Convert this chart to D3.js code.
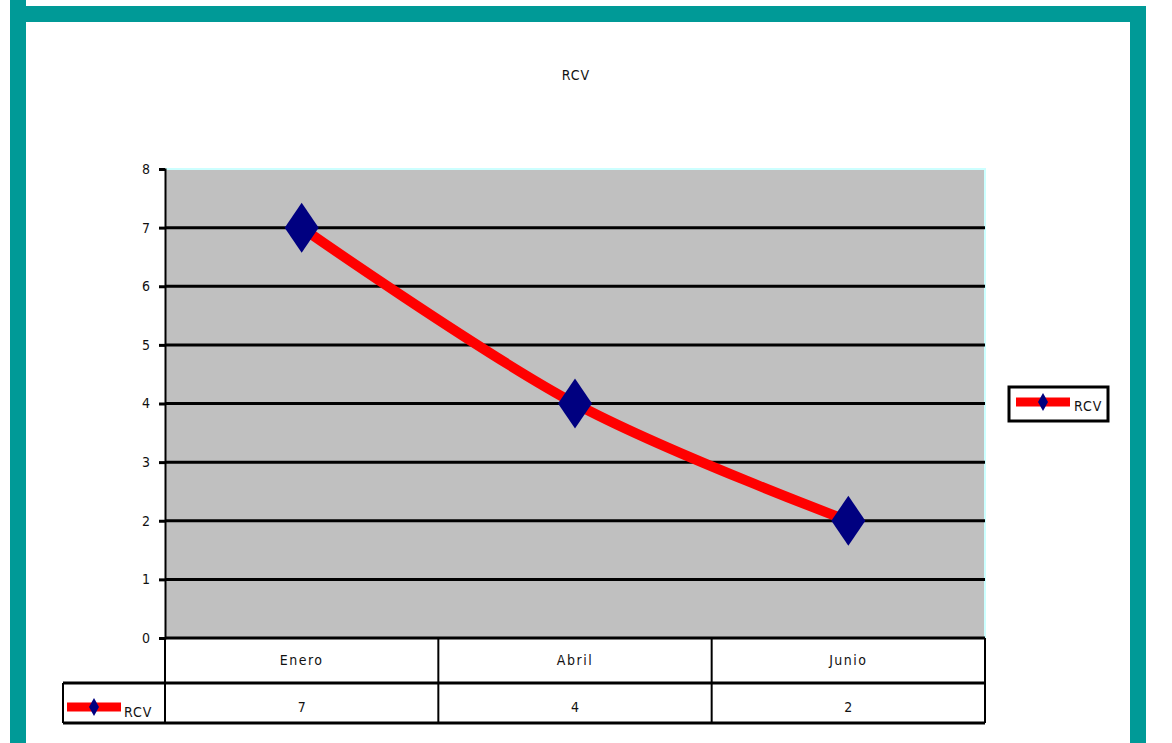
<!DOCTYPE html>
<html>
<head>
<meta charset="utf-8">
<script src="https://cdn.jsdelivr.net/npm/d3@7"></script>
<style>
  body { margin: 0; background: #fff; }
  svg text { font-family: "Liberation Sans Narrow", "DejaVu Sans Condensed", "Liberation Sans", Arial, sans-serif; font-stretch: condensed; font-size: 14px; fill: #111; }
</style>
</head>
<body>
<div id="chart"></div>
<script>
// data
const categories = ["Enero", "Abril", "Junio"];
const rcvValues = [7, 4, 2];
const seriesName = "RCV";
const yTicks = [0, 1, 2, 3, 4, 5, 6, 7, 8];

const width = 1172;
const height = 743;

// plot area
const plotLeft = 165, plotRight = 985, plotTop = 169, plotBottom = 638;
const rowH1 = 45, rowH2 = 40;

const svg = d3.select("#chart")
  .append("svg")
  .attr("width", width)
  .attr("height", height);

// teal frame
const teal = "#009a97";
svg.append("rect").attr("x", 10).attr("y", 0).attr("width", 16).attr("height", height).attr("fill", teal);
svg.append("rect").attr("x", 10).attr("y", 6).attr("width", 1136).attr("height", 16).attr("fill", teal);
svg.append("rect").attr("x", 1130).attr("y", 6).attr("width", 16).attr("height", height).attr("fill", teal);

// title
svg.append("text")
  .attr("x", 576).attr("y", 80)
  .attr("text-anchor", "middle")
  .style("letter-spacing", "1px")
  .text(seriesName);

const x = d3.scaleBand()
  .domain(categories)
  .range([plotLeft, plotRight]);

const y = d3.scaleLinear()
  .domain([0, 8])
  .range([plotBottom, plotTop]);

// plot background
svg.append("rect")
  .attr("x", plotLeft).attr("y", plotTop)
  .attr("width", plotRight - plotLeft).attr("height", plotBottom - plotTop)
  .attr("fill", "#c0c0c0");

// light cyan top/right edges
svg.append("path")
  .attr("d", `M${plotLeft},${plotTop} H${plotRight} V${plotBottom}`)
  .attr("fill", "none")
  .attr("stroke", "#ccffff")
  .attr("stroke-width", 2);

// gridlines
svg.append("g")
  .selectAll("line")
  .data(yTicks.filter(d => d > 0 && d < 8))
  .join("line")
  .attr("x1", plotLeft).attr("x2", plotRight)
  .attr("y1", d => y(d)).attr("y2", d => y(d))
  .attr("stroke", "#000")
  .attr("stroke-width", 3);

// y axis
const yAxis = svg.append("g")
  .attr("transform", `translate(${plotLeft},0)`)
  .call(d3.axisLeft(y).tickValues(yTicks).tickSize(6).tickPadding(9).tickFormat(d3.format("d")));
yAxis.select(".domain").attr("stroke", "#000").attr("stroke-width", 2);
yAxis.selectAll(".tick line").attr("stroke", "#000").attr("stroke-width", 3);
yAxis.selectAll("text").style("font-size", "14px").attr("fill", "#111");

// data table
const tbl = svg.append("g").attr("fill", "none").attr("stroke", "#000");
tbl.append("line").attr("x1", plotLeft).attr("x2", plotRight).attr("y1", plotBottom).attr("y2", plotBottom).attr("stroke-width", 3);
tbl.append("line").attr("x1", 63).attr("x2", plotRight).attr("y1", plotBottom + rowH1).attr("y2", plotBottom + rowH1).attr("stroke-width", 3);
tbl.append("line").attr("x1", 63).attr("x2", plotRight).attr("y1", plotBottom + rowH1 + rowH2).attr("y2", plotBottom + rowH1 + rowH2).attr("stroke-width", 3);
tbl.append("line").attr("x1", 63).attr("x2", 63).attr("y1", plotBottom + rowH1).attr("y2", plotBottom + rowH1 + rowH2).attr("stroke-width", 2);
tbl.selectAll("line.div")
  .data(categories)
  .join("line")
  .attr("class", "div")
  .attr("x1", d => x(d) + x.bandwidth()).attr("x2", d => x(d) + x.bandwidth())
  .attr("y1", plotBottom).attr("y2", plotBottom + rowH1 + rowH2)
  .attr("stroke-width", 2);
tbl.append("line").attr("x1", plotLeft).attr("x2", plotLeft).attr("y1", plotBottom).attr("y2", plotBottom + rowH1 + rowH2).attr("stroke-width", 2);

svg.append("g")
  .selectAll("text")
  .data(categories)
  .join("text")
  .attr("x", d => x(d) + x.bandwidth() / 2)
  .attr("y", plotBottom + 27)
  .attr("text-anchor", "middle")
  .style("letter-spacing", "1.5px")
  .text(d => d);

svg.append("g")
  .selectAll("text")
  .data(rcvValues)
  .join("text")
  .attr("x", (d, i) => x(categories[i]) + x.bandwidth() / 2)
  .attr("y", plotBottom + rowH1 + 29)
  .attr("text-anchor", "middle")
  .text(d => d);

// legend key helper
function legendKey(g, cx, cy) {
  g.append("line")
    .attr("x1", cx - 27).attr("x2", cx + 27)
    .attr("y1", cy).attr("y2", cy)
    .attr("stroke", "#ff0000").attr("stroke-width", 9);
  g.append("path")
    .attr("d", `M${cx},${cy - 9} L${cx + 5},${cy} L${cx},${cy + 9} L${cx - 5},${cy} Z`)
    .attr("fill", "#000080");
}

// table legend key
const tk = svg.append("g");
legendKey(tk, 94, plotBottom + rowH1 + 24);
tk.append("text").attr("x", 124).attr("y", plotBottom + rowH1 + 34).style("letter-spacing", "1px").text(seriesName);

// line
const line = d3.line()
  .x((d, i) => x(categories[i]) + x.bandwidth() / 2)
  .y(d => y(d))
  .curve(d3.curveCatmullRom.alpha(0));

svg.append("path")
  .datum(rcvValues)
  .attr("d", line)
  .attr("fill", "none")
  .attr("stroke", "#ff0000")
  .attr("stroke-width", 10);

// diamonds
svg.append("g")
  .selectAll("path")
  .data(rcvValues)
  .join("path")
  .attr("transform", (d, i) => `translate(${x(categories[i]) + x.bandwidth() / 2},${y(d)})`)
  .attr("d", "M0,-25 L17,0 L0,25 L-17,0 Z")
  .attr("fill", "#000080");

// legend box
const lg = svg.append("g");
lg.append("rect")
  .attr("x", 1009).attr("y", 387)
  .attr("width", 99).attr("height", 34)
  .attr("fill", "#fff").attr("stroke", "#000").attr("stroke-width", 3);
legendKey(lg, 1043, 402);
lg.append("text").attr("x", 1074).attr("y", 411).style("letter-spacing", "1px").text(seriesName);
</script>
</body>
</html>
